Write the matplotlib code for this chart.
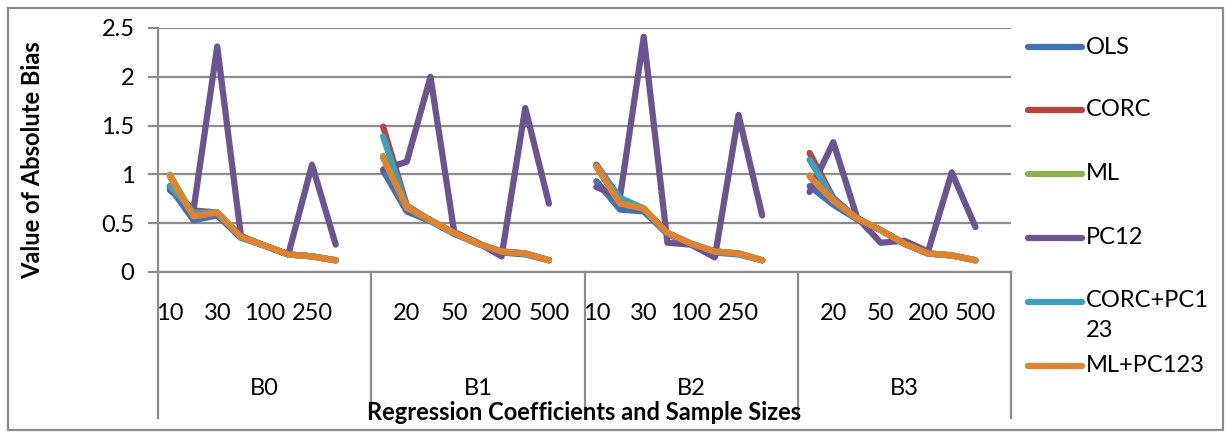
import numpy as np
import matplotlib
matplotlib.use("Agg")
import matplotlib.pyplot as plt
from matplotlib.lines import Line2D
from matplotlib.patches import Rectangle
import matplotlib.transforms as mtransforms

plt.rcParams['font.family'] = ['Lato', 'DejaVu Sans']

# categories
groups = ["B0", "B1", "B2", "B3"]
sizes = ["10", "20", "30", "50", "100", "200", "250", "500"]

# absolute bias per estimator, 8 sample sizes per coefficient (B0, B1, B2, B3)
ols = [0.87, 0.53, 0.58, 0.35, 0.27, 0.18, 0.16, 0.12,
       1.04, 0.62, 0.52, 0.39, 0.29, 0.20, 0.18, 0.12,
       0.93, 0.64, 0.62, 0.39, 0.28, 0.20, 0.18, 0.12,
       0.88, 0.69, 0.54, 0.43, 0.29, 0.19, 0.17, 0.12]
corc = [0.88, 0.63, 0.61, 0.36, 0.27, 0.18, 0.16, 0.12,
        1.49, 0.68, 0.53, 0.40, 0.29, 0.21, 0.19, 0.12,
        1.10, 0.75, 0.65, 0.40, 0.29, 0.21, 0.19, 0.12,
        1.22, 0.76, 0.55, 0.43, 0.29, 0.19, 0.17, 0.12]
ml = [1.00, 0.58, 0.61, 0.36, 0.27, 0.18, 0.16, 0.12,
      1.19, 0.67, 0.53, 0.40, 0.29, 0.21, 0.19, 0.12,
      1.08, 0.71, 0.65, 0.40, 0.29, 0.21, 0.19, 0.12,
      0.99, 0.74, 0.55, 0.43, 0.29, 0.19, 0.17, 0.12]
pc12 = [0.84, 0.64, 2.31, 0.37, 0.27, 0.18, 1.10, 0.28,
        1.05, 1.13, 2.00, 0.41, 0.30, 0.16, 1.68, 0.70,
        0.87, 0.77, 2.41, 0.30, 0.28, 0.15, 1.61, 0.58,
        0.82, 1.33, 0.56, 0.30, 0.32, 0.21, 1.02, 0.46]
corc_pc123 = [0.88, 0.61, 0.61, 0.36, 0.27, 0.18, 0.16, 0.12,
              1.39, 0.66, 0.53, 0.40, 0.29, 0.21, 0.19, 0.12,
              1.09, 0.76, 0.65, 0.40, 0.29, 0.21, 0.19, 0.12,
              1.15, 0.75, 0.55, 0.43, 0.29, 0.19, 0.17, 0.12]
ml_pc123 = [0.98, 0.57, 0.61, 0.36, 0.27, 0.18, 0.16, 0.12,
            1.17, 0.66, 0.53, 0.40, 0.29, 0.21, 0.19, 0.12,
            1.08, 0.70, 0.65, 0.40, 0.29, 0.21, 0.19, 0.12,
            0.98, 0.73, 0.55, 0.43, 0.29, 0.19, 0.17, 0.12]

series = [("OLS", ols, "#4472b0"),
          ("CORC", corc, "#b8433f"),
          ("ML", ml, "#8fb04f"),
          ("PC12", pc12, "#6c5392"),
          ("CORC+PC1\n23", corc_pc123, "#3d9fb8"),
          ("ML+PC123", ml_pc123, "#e0832f")]

n_per = len(sizes) + 1  # one empty slot after each group
n_slots = n_per * len(groups)
fs = 17

fig = plt.figure(figsize=(12.27, 4.33), dpi=100)
W, H = 1227, 433
ax = fig.add_axes([158 / W, 1 - 272 / H, (1011 - 158) / W, (272 - 28) / H])

grid_c = "#8c8c8c"
for name, vals, col in series:
    y = np.full(n_slots, np.nan)
    for g in range(len(groups)):
        y[g * n_per:g * n_per + len(sizes)] = vals[g * len(sizes):(g + 1) * len(sizes)]
    ax.plot(np.arange(n_slots), y, color=col, lw=4.5, solid_capstyle='round',
            solid_joinstyle='round')

ax.set_xlim(-0.5, n_slots - 0.5)
ax.set_ylim(0, 2.5)
ax.set_yticks([0, 0.5, 1, 1.5, 2, 2.5])
ax.set_yticklabels(["0", "0.5", "1", "1.5", "2", "2.5"])
ax.yaxis.grid(True, color=grid_c, lw=1.6)
ax.set_axisbelow(True)
for s in ["top", "right"]:
    ax.spines[s].set_visible(False)
ax.spines["left"].set_color(grid_c)
ax.spines["left"].set_linewidth(1.6)
ax.spines["bottom"].set_color(grid_c)
ax.spines["bottom"].set_linewidth(1.6)
ax.tick_params(axis='y', length=7, width=1.6, color=grid_c, labelsize=fs, pad=10)

# category labels, every other slot shown
labels = []
for g in range(len(groups)):
    labels += sizes + [""]
ticks = np.arange(0, n_slots, 2)
ax.set_xticks(ticks)
ax.set_xticklabels([labels[t] for t in ticks])
ax.tick_params(axis='x', length=0, labelsize=fs, pad=22)

# group level of the axis
trans = mtransforms.blended_transform_factory(ax.transData, ax.transAxes)
for g in range(len(groups) + 1):
    xb = g * n_per - 0.5
    ax.plot([xb, xb], [0, -0.6], transform=trans, color=grid_c, lw=1.6, clip_on=False)
for g, name in enumerate(groups):
    ax.text(g * n_per + n_per / 2 - 0.5, -0.476, name, transform=trans,
            ha='center', va='center', fontsize=fs)

fig.text(584 / W, 1 - 413 / H, "Regression Coefficients and Sample Sizes",
         ha='center', va='center', fontsize=fs, fontweight='bold')
fig.text(33 / W, 1 - 160 / H, "Value of Absolute Bias", rotation=90,
         ha='center', va='center', fontsize=fs, fontweight='bold')

# legend
leg_y = [47, 110, 174, 238, 302, 366]
for (name, vals, col), yy in zip(series, leg_y):
    fig.add_artist(Line2D([1028 / W, 1082 / W], [1 - yy / H, 1 - yy / H],
                          color=col, lw=4.5, solid_capstyle='round'))
    if "\n" in name:
        fig.text(1086 / W, 1 - (yy - 12) / H, name, ha='left', va='top',
                 fontsize=fs, linespacing=1.55)
    else:
        fig.text(1086 / W, 1 - yy / H, name, ha='left', va='center', fontsize=fs)

# chart border
fig.add_artist(Rectangle((8 / W, 1 - 430 / H), (1223 - 8) / W, (430 - 8) / H,
                         fill=False, edgecolor=grid_c, lw=1.6))

fig.savefig("out.png", dpi=100)
